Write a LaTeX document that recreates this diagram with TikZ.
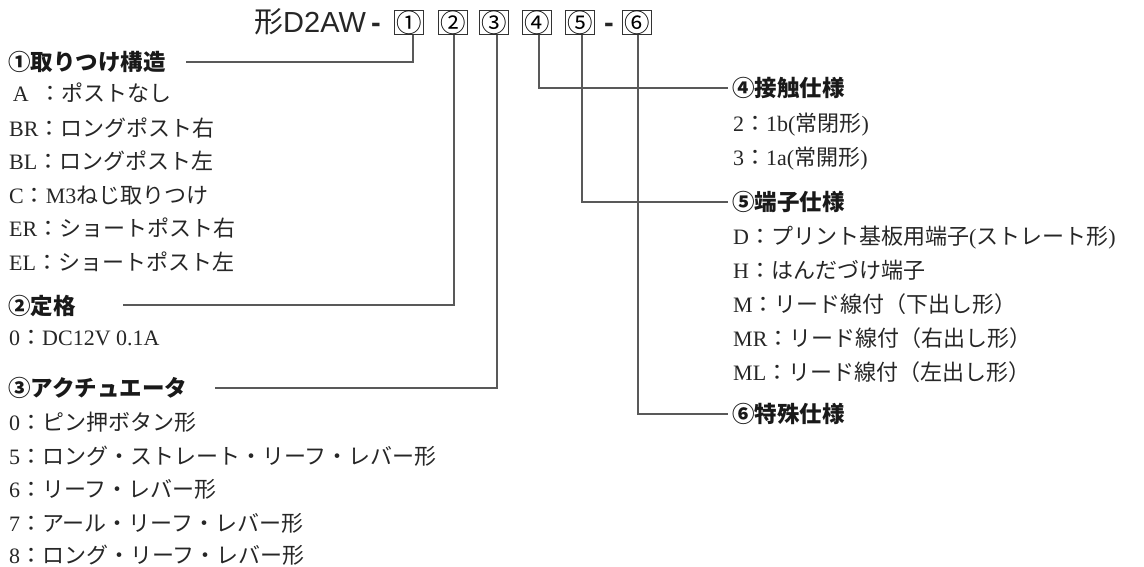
\documentclass[tikz,border=0pt]{standalone}
\usepackage{fontspec}
\setmainfont{Liberation Serif}
\newfontfamily\jp{Noto Sans CJK JP}
\newfontfamily\hv{Liberation Sans}
\newcommand\rs[1]{{\rmfamily\fontsize{22}{22}\selectfont #1}}
\begin{document}
\begin{tikzpicture}[x=1pt,y=-1pt,
  codebox/.style={draw=black!80,line width=0.9pt,minimum width=29pt,minimum height=24pt,inner sep=0pt,text height=19.5pt,text depth=0pt,font=\jp\fontsize{25.5}{25.5}\selectfont},
  conn/.style={draw=black!65,line width=1.1pt},
  head/.style={anchor=west,inner sep=0pt,text height=17pt,text depth=0pt,font=\jp\bfseries\fontsize{22.5}{22.5}\selectfont,text=black!90},
  item/.style={anchor=west,inner sep=0pt,text height=17pt,text depth=0pt,font=\jp\fontsize{22}{22}\selectfont,text=black!85},
  ttl/.style={inner sep=0pt,anchor=base,font=\hv\fontsize{29}{29}\selectfont,text=black!85}]
\useasboundingbox (0,0) rectangle (1144,567);
% title
\node[ttl,anchor=base west] (t) at (254,33) {{\jp 形}D2AW};
\node[ttl] (d1) at (376,33) {\bfseries -};
\node[ttl] (d2) at (609,33) {\bfseries -};
\node[codebox] (b1) at (409,22.5) {①};
\node[codebox] (b2) at (453,22.5) {②};
\node[codebox] (b3) at (494,22.5) {③};
\node[codebox] (b4) at (537,22.5) {④};
\node[codebox] (b5) at (580,22.5) {⑤};
\node[codebox] (b6) at (637,22.5) {⑥};
% left column
\node[head] (h1) at (8,62) {①取りつけ構造};
\node[item] (a1) at (9,93) {\rs{\,A\ \ }：ポストなし};
\node[item] (a2) at (9,128) {\rs{BR}：ロングポスト右};
\node[item] (a3) at (9,161) {\rs{BL}：ロングポスト左};
\node[item] (a4) at (9,195) {\rs{C}：\rs{M3}ねじ取りつけ};
\node[item] (a5) at (9,228) {\rs{ER}：ショートポスト右};
\node[item] (a6) at (9,262) {\rs{EL}：ショートポスト左};
\node[head] (h2) at (8,306) {②定格};
\node[item] (r1) at (9,337) {\rs{0}：\rs{DC12V 0.1A}};
\node[head] (h3) at (8,388) {③アクチュエータ};
\node[item] (c1) at (9,422) {\rs{0}：ピン押ボタン形};
\node[item] (c2) at (9,456) {\rs{5}：ロング・ストレート・リーフ・レバー形};
\node[item] (c3) at (9,489) {\rs{6}：リーフ・レバー形};
\node[item] (c4) at (9,523) {\rs{7}：アール・リーフ・レバー形};
\node[item] (c5) at (9,555) {\rs{8}：ロング・リーフ・レバー形};
% right column
\node[head] (h4) at (732,88) {④接触仕様};
\node[item] (k1) at (733,123) {\rs{2}：\rs{1b(}常閉形\rs{)}};
\node[item] (k2) at (733,157) {\rs{3}：\rs{1a(}常開形\rs{)}};
\node[head] (h5) at (732,202) {⑤端子仕様};
\node[item] (s1) at (733,236) {\rs{D}：プリント基板用端子\rs{(}ストレート形\rs{)}};
\node[item] (s2) at (733,270) {\rs{H}：はんだづけ端子};
\node[item] (s3) at (733,304) {\rs{M}：リード線付（下出し形）};
\node[item] (s4) at (733,338) {\rs{MR}：リード線付（右出し形）};
\node[item] (s5) at (733,372) {\rs{ML}：リード線付（左出し形）};
\node[head] (h6) at (732,414) {⑥特殊仕様};
% line ends
\coordinate (e1) at (186,62);
\coordinate (e2) at (123,305);
\coordinate (e3) at (215,388);
\coordinate (e4) at (728,88);
\coordinate (e5) at (728,202);
\coordinate (e6) at (728,414);
% connectors
\draw[conn] ([xshift=4pt]b1.south) |- (e1);
\draw[conn] ([xshift=1pt]b2.south) |- (e2);
\draw[conn] ([xshift=3pt]b3.south) |- (e3);
\draw[conn] ([xshift=2pt]b4.south) |- (e4);
\draw[conn] ([xshift=2pt]b5.south) |- (e5);
\draw[conn] ([xshift=1pt]b6.south) |- (e6);
\end{tikzpicture}
\end{document}
